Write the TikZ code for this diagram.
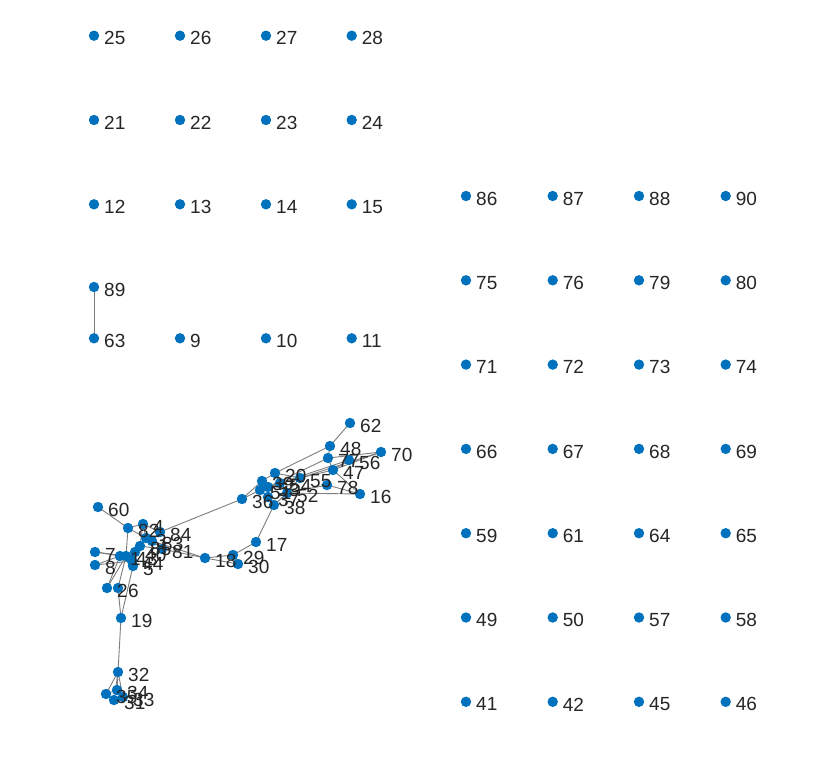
\documentclass[tikz,border=0pt]{standalone}
\usepackage{fontspec}
\setmainfont{Liberation Sans}
\definecolor{mblue}{RGB}{0,114,189}
\definecolor{mtext}{RGB}{38,38,38}
\definecolor{medge}{RGB}{125,125,125}
\begin{document}
\begin{tikzpicture}[x=1pt,y=-1pt,
  dotnode/.style={circle,fill=mblue,draw=none,minimum size=10.4pt,inner sep=0pt},
  lbl/.style={anchor=west,inner sep=0pt,text=mtext,font=\fontsize{19}{21}\selectfont},
  edge/.style={draw=medge,line width=0.9pt}]
\fill[white] (0,0) rectangle (831,780);
\useasboundingbox (0,0) rectangle (831,780);
\def\pts{94/35.7/25,180/35.7/26,266/35.7/27,351.7/35.7/28,
94/120/21,180/120/22,266/120/23,351.7/120/24,
94/204.3/12,180/204.3/13,266/204.3/14,351.7/204.3/15,
94/287/89,94/338.3/63,180/338.3/9,266/338.3/10,351.7/338.3/11,
466/196/86,552.7/196/87,639/196/88,725.7/196/90,
466/280.3/75,552.7/280.3/76,639/280.3/79,725.7/280.3/80,
466/364.6/71,552.7/364.6/72,639/364.6/73,725.7/364.6/74,
466/448.9/66,552.7/448.9/67,639/448.9/68,725.7/448.9/69,
466/533.2/59,552.7/533.2/61,639/533.2/64,725.7/533.2/65,
466/617.5/49,552.7/617.5/50,639/617.5/57,725.7/617.5/58,
466/701.8/41,552.7/701.8/42,639/701.8/45,725.7/701.8/46,
98/507/60,128/528/82,143/524/4,160/532/84,146/538/3,152/541/83,162/549/81,
140/546/85,135/552/40,126/556/43,132/561/44,120/556/1,95/552/7,95/565/8,
133/566/5,107/588/2,118/588/6,
205/558/18,233/555/29,238/564/30,256/542/17,121/618/19,
118/672/32,117/690/34,114/700/31,123/697/33,106/694/35,
242/499/36,274/505/38,275/473/20,262/481/39,260/490/51,268/487/53,280/483/54,
287/493/52,300/478/55,268/497/37,
350/423/62,330/446/48,328/458/77,349/460/56,333/470/47,381/452/70,327/485/78,360/494/16}
\foreach \x/\y/\n in \pts {\coordinate (c\n) at (\x,\y);}
% edges
\foreach \a/\b in {63/89,60/82,82/4,82/3,82/43,4/84,4/3,84/83,3/83,3/85,83/81,85/40,40/43,43/1,
  1/7,1/8,44/5,43/44,40/44,85/81,4/85,7/43,8/44,84/36,81/18,83/18,18/29,18/30,29/30,29/17,17/38,
  2/1,2/43,6/43,19/6,19/5,19/32,32/34,32/31,32/33,32/35,34/35,31/33,
  36/51,36/39,39/20,39/53,51/53,51/37,37/38,53/54,54/20,54/52,52/55,55/20,38/52,
  20/48,48/62,53/77,54/56,55/47,55/70,52/78,78/16,52/16,47/70,77/47,56/47,48/77,77/70,51/55,47/16}
  {\draw[edge] (c\a) -- (c\b);}
% nodes
\foreach \x/\y/\n in \pts {\node[dotnode] (d\n) at (c\n) {};}
\foreach \x/\y/\n in \pts {\node[lbl] (l\n) at ([shift={(10,2.6)}]c\n) {\n};}
\end{tikzpicture}
\end{document}
